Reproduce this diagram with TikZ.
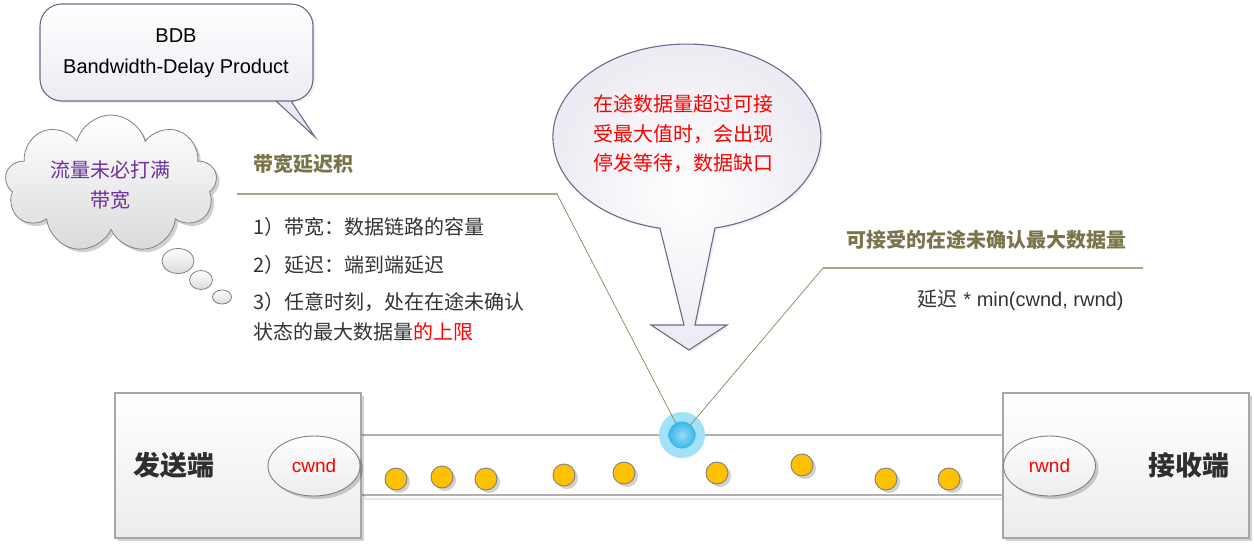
\documentclass[tikz,border=0pt]{standalone}
\usepackage{fontspec}
\setmainfont{Liberation Sans}
\newfontfamily\cjk{Noto Sans CJK SC}
\usetikzlibrary{shapes.symbols,shapes.geometric,shadows}
\definecolor{olivetxt}{RGB}{122,116,74}
\definecolor{oliveline}{RGB}{164,170,134}
\definecolor{olivethin}{RGB}{128,138,88}
\definecolor{bubbleborder}{RGB}{112,104,140}
\definecolor{lav}{RGB}{230,228,238}
\definecolor{lavlight}{RGB}{236,234,242}
\definecolor{boxborder}{RGB}{166,166,166}
\definecolor{boxbottom}{RGB}{236,236,236}
\definecolor{gold}{RGB}{255,192,0}
\definecolor{dotborder}{RGB}{128,128,128}
\definecolor{txt}{RGB}{51,51,51}
\definecolor{purp}{RGB}{112,48,160}
\definecolor{skyout}{RGB}{162,226,248}
\definecolor{skyin}{RGB}{56,182,234}
\definecolor{skylight}{RGB}{150,220,246}
\definecolor{cloudbottom}{RGB}{218,218,218}
\definecolor{pipeline}{RGB}{176,176,176}
\definecolor{pipeshadow}{RGB}{230,230,230}
\begin{document}
\begin{tikzpicture}[x=1pt,y=-1pt,
  cn/.style={font=\fontsize{20}{24}\selectfont\cjk},
  cnb/.style={font=\fontsize{20}{24}\selectfont\cjk\bfseries},
  lat/.style={font=\fontsize{20}{24}\selectfont},
  sshadow/.style={drop shadow={shadow xshift=3pt,shadow yshift=-3pt,opacity=0.18,fill=black}},
  box/.style={draw=boxborder,line width=1.6pt,top color=white,bottom color=boxbottom,sshadow,minimum width=246,minimum height=145,inner sep=0},
  winell/.style={ellipse,draw=dotborder,line width=0.9pt,top color=white,bottom color=boxbottom,sshadow,minimum width=92,minimum height=60,inner sep=0,text=red,lat,font=\fontsize{19}{22}\selectfont},
  packet/.style={circle,draw=dotborder,line width=0.9pt,fill=gold,sshadow,minimum size=22,inner sep=0},
  titleline/.style={draw=oliveline,line width=1.6pt},
  leader/.style={draw=olivethin,line width=0.7pt},
  bubble/.style={draw=bubbleborder,line width=1.1pt,top color=white,bottom color=lav},
  thought/.style={ellipse,draw=dotborder,line width=0.8pt,top color=white,bottom color=cloudbottom,inner sep=0},
]
\useasboundingbox (0,0) rectangle (1254,544);

% pipe
\draw[pipeshadow,line width=1.2pt] (365,439) rectangle (1007,499);
\draw[pipeline,line width=2pt,fill=white] (361,435) rectangle (1003,495);

% boxes
\node[box] (snd) at (238,465.5) {};
\node[box] (rcv) at (1126,465.5) {};
\node[cnb,font=\fontsize{27}{30}\selectfont\cjk\bfseries,text=txt!90!black,anchor=west] (sndt) at (130,465) {发送端};
\node[cnb,font=\fontsize{27}{30}\selectfont\cjk\bfseries,text=txt!90!black] (rcvt) at (1189,465) {接收端};
\node[winell] (cwnd) at (314,466) {cwnd};
\node[winell] (rwnd) at (1049.5,466) {rwnd};

% packets
\foreach \x/\y [count=\i] in {396/479,442/477,486/479,564/475,624/473,717/473,802/465,886/479,949/479}
  \node[packet] (p\i) at (\x,\y) {};

% BDB speech bubble
\path[bubble,drop shadow={shadow xshift=2pt,shadow yshift=-2pt,opacity=0.12}] (276,101) -- (315,137) -- (291,101) -- (293,101) [rounded corners=22] -- (313,101) -- (313,4) -- (40,4) -- (40,101) -- (272,101) [sharp corners] -- cycle;
\node[lat,align=center] (bdb) at (176,53) {BDB\\[7pt]Bandwidth-Delay Product};

% cloud
\node[cloud,cloud puffs=9,aspect=1.55,draw=dotborder,line width=0.8pt,top color=white,bottom color=cloudbottom,minimum width=212,minimum height=138,inner sep=0,sshadow] (cloud) at (111,184) {};
\node[cn,text=purp,align=center] (cloudt) at (110,185) {流量未必打满\\[6pt]带宽};
\node[thought,minimum width=32,minimum height=25] (t1) at (178,261) {};
\node[thought,minimum width=23,minimum height=19] (t2) at (201,280) {};
\node[thought,minimum width=19,minimum height=14] (t3) at (222,297) {};

% left text block
\node[cnb,text=olivetxt,anchor=west] (bdpt) at (250,164) {带宽延迟积};
\coordinate (la) at (237,194);
\coordinate (lb) at (557,194);
\draw[titleline] (la) -- (lb);
\node[cn,text=txt,anchor=west] (i1) at (250,227) {1）带宽：数据链路的容量};
\node[cn,text=txt,anchor=west] (i2) at (250,265) {2）延迟：端到端延迟};
\node[cn,text=txt,anchor=west] (i3) at (250,302) {3）任意时刻，处在在途未确认};
\node[cn,text=txt,anchor=west] (i4) at (250,332) {状态的最大数据量\textcolor{red}{的上限}};

% big balloon
\path[draw=bubbleborder,line width=1.1pt,inner color=white,outer color=lavlight,drop shadow={shadow xshift=2pt,shadow yshift=-2pt,opacity=0.12}]
  (715,228) arc[start angle=77.9,end angle=-258.4,x radius=134,y radius=93]
  -- (684,325) -- (651,325) -- (689,350) -- (727,325) -- (695,325) -- cycle;
\node[cn,text=red,align=center] (warn) at (683,134) {在途数据量超过可接\\[5.5pt]受最大值时，会出现\\[5.5pt]停发等待，数据缺口};

% right text block
\node[cnb,text=olivetxt] (maxt) at (986,240) {可接受的在途未确认最大数据量};
\coordinate (ra) at (823,268);
\coordinate (rb) at (1143,268);
\draw[titleline] (ra) -- (rb);
\node[lat,text=txt,anchor=east] (formula) at (1127,300) {{\cjk 延迟} * min(cwnd, rwnd)};

% in-flight marker
\node[circle,fill=skyout,minimum size=46,inner sep=0] (halo) at (682,435) {};
\draw[leader] (lb) -- (682,435);
\draw[leader] (ra) -- (682,435);
\node[circle,inner color=skylight,outer color=skyin,minimum size=27,inner sep=0] (dot) at (682,435) {};
\end{tikzpicture}
\end{document}
